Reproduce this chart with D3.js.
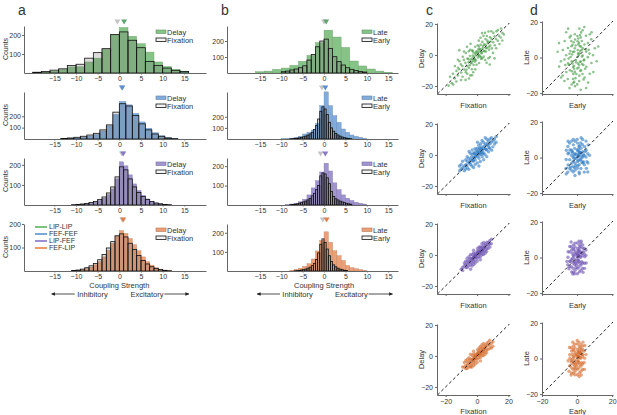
<!DOCTYPE html>
<html><head><meta charset="utf-8">
<script src="https://cdn.jsdelivr.net/npm/d3@7"></script>
<style>
body{margin:0;background:#fff}
svg{display:block}
text{font-family:"Liberation Sans",Arial,sans-serif;fill:#333}
</style>
</head><body>
<svg id="chart" width="617" height="415"></svg>
<script>
// ---------------- DATA ----------------
const pairTypes = ["LIP-LIP","FEF-FEF","LIP-FEF","FEF-LIP"];
const histTicks = [-15,-10,-5,0,5,10,15];
const countTicks = [100,200];
const scatTicks = [-20,0,20];

// panel a: Fixation (outline) vs Delay (colored); bin start / width / counts
const aStart = [-20,-13.5,-11,-11];
const aWidth = [2,1.5,1,1];
const aFixation = [
  [4,8,15,22,40,46,78,107,128,202,216,172,133,61,40,26,14,8],
  [4,9,15,24,35,50,80,124,236,310,290,206,133,80,44,24,9,3],
  [1,3,5,8,12,18,28,40,60,90,140,190,175,130,90,62,42,28,18,10,6,3,1],
  [2,4,8,14,22,32,48,70,98,125,150,158,145,118,92,66,45,30,18,11,6,3,1]
];
const aDelay = [
  [2,5,10,18,32,33,58,78,125,200,239,193,154,110,58,34,20,10],
  [2,4,8,15,25,40,70,115,215,330,300,225,150,95,55,28,12,4],
  [1,2,3,5,8,14,22,34,52,80,130,215,195,150,105,72,48,30,18,10,5,2,1],
  [1,2,5,10,16,26,40,60,88,118,148,172,160,138,112,86,60,40,25,14,7,3,2]
];
const aYMax = [247,413,234,200];
const aMeanFix = [-0.45,0.5,0.6,0.7];
const aMeanDelay = [1.1,0.7,0.9,0.9];

// panel b: Early (outline) vs Late (colored)
const bLateStart = [-16,-10,-9,-8];
const bLateWidth = [2,1,1,1];
const bLate = [
  [8,12,23,31,48,73,110,190,268,225,160,75,44,25,12,4],
  [2,4,8,14,25,45,60,80,140,300,424,300,210,150,90,60,36,24,15,6],
  [2,5,9,17,30,52,88,125,170,215,175,114,79,52,35,23,14,9,5],
  [3,9,15,24,38,63,105,160,205,150,106,80,55,29,17,12,7,3]
];
const bEarlyStart = [-10,-8,-8,-7];
const bEarlyWidth = [1,0.5,0.5,0.5];
const bEarly = [
  [8,12,19,25,33,45,81,116,164,200,212,154,102,71,50,33,23,15,10,6],
  [2,3,5,7,10,14,20,26,35,45,60,85,120,180,250,290,270,220,150,100,70,50,36,26,18,12,8,5,3],
  [2,3,4,6,9,12,16,20,26,34,47,60,79,100,150,165,160,140,110,70,44,32,26,20,16,12,9,6,4],
  [1,2,3,5,7,10,15,20,28,40,60,95,140,168,150,115,80,50,32,22,15,10,7,4,3]
];
const bYMax = [294,423,242,246];
const bMeanEarly = [0.0,-0.5,-0.8,-0.3];
const bMeanLate = [0.5,0.3,0.3,0.6];

// panel c: (Fixation, Delay) per pair; panel d: (Early, Late)
const scatC1 = [[0.3,1.2],[1.4,2.1],[-0.8,-0.4],[2.2,3.5],[-2.1,-1.3],[3.6,4.2],[-3.3,-2.4],[1.1,-0.3],[0.6,-1.7],[2.8,0.9],[-1.5,-2.6],[4.4,2.7],[-4.2,-3.1],[5.3,6.4],[-5.4,-4.6],[3.1,1.5],[-2.6,-3.8],[1.7,3.9],[-0.2,2.4],[-1.2,0.8],
[6.2,4.7],[-6.3,-7.2],[7.1,8.3],[-7.4,-5.1],[4.6,6.8],[-3.7,-5.3],[2.4,-1.4],[-2.3,1.6],[5.7,2.2],[-4.5,-0.7],[8.4,6.1],[-8.1,-9.4],[6.6,9.2],[-5.2,-8.3],[3.3,-2.2],[-3.1,2.8],[9.2,10.4],[-9.3,-7.2],[1.2,5.4],[-1.4,-4.3],
[10.3,8.2],[-10.1,-11.3],[7.6,3.4],[-6.1,-2.3],[4.2,-1.1],[-4.4,3.3],[11.2,12.1],[-11.4,-9.2],[8.3,11.4],[-7.2,-11.1],[2.3,6.6],[-2.2,-6.4],[5.2,-3.3],[-5.3,2.4],[12.1,10.3],[-12.3,-13.2],[9.4,4.2],[-8.4,-3.2],[0.4,6.2],[-0.3,-6.3],
[13.2,9.1],[-13.1,-10.3],[6.3,12.2],[-9.2,-14.1],[3.4,8.4],[-3.3,-9.2],[10.4,14.2],[-10.3,-6.1],[7.2,-2.1],[-7.1,1.2],[14.1,12.3],[-14.2,-15.1],[11.3,6.2],[-11.2,-4.1],[1.3,-5.2],[-1.2,5.3],[12.4,15.2],[-12.1,-8.3],[5.4,10.2],[-6.2,-12.1],
[15.1,11.2],[-15.3,-12.2],[8.2,-1.3],[-8.3,2.2],[4.1,12.3],[-4.3,-13.2],[13.3,16.1],[-13.2,-17.1],[9.1,15.3],[-10.2,-16.2],[16.2,14.1],[-16.1,-18.2],[14.3,7.1],[-14.1,-7.2],[2.2,11.1],[-2.4,-11.2],[11.1,-2.2],[-11.3,3.1],[6.1,-5.1],[-6.4,5.2],
[17.1,13.2],[-17.2,-14.1],[10.2,1.3],[-9.1,-1.2],[3.2,14.1],[-5.1,-15.2],[15.3,17.1],[-18.1,-19.8],[12.2,4.3],[-12.2,-3.1],[7.3,15.1],[-7.3,-16.1],[1.1,9.2],[-1.1,-9.3],[5.1,14.2],[-3.2,-13.1],[8.1,-6.2],[-4.1,7.2],[16.1,9.3],[-15.2,-19.1],
[0.7,0.2],[1.8,-0.8],[-0.6,1.7],[2.6,2.3],[-1.7,-2.8],[3.8,5.7],[-2.7,-0.4],[4.7,2.4],[-3.6,-4.8],[5.8,4.3],[-4.7,-6.6],[6.8,7.6],[-5.6,-2.7],[7.7,5.3],[-6.7,-9.6],[8.6,8.7],[0.8,3.6],[-0.7,-3.4],[2.7,-2.6],[-2.8,2.7]];
const scatD1 = [[0.2,0.3],[1.3,2.2],[-0.7,-1.4],[2.1,-2.3],[-2.3,3.1],[0.4,4.2],[1.2,-4.1],[-1.3,5.2],[3.2,1.1],[-3.1,-2.2],[0.1,-6.2],[2.3,6.1],[-2.2,-5.3],[4.1,-1.2],[-4.3,2.1],[1.1,8.2],[-1.2,-8.1],[3.3,5.1],[-3.2,6.3],[2.2,-7.1],
[0.3,9.1],[-2.1,-9.2],[5.2,3.3],[-5.1,-3.2],[1.3,-10.2],[-1.1,10.1],[4.2,7.3],[-4.1,-7.2],[6.1,0.2],[-6.2,1.3],[3.1,-9.3],[-3.3,9.2],[0.2,12.1],[2.1,11.3],[-2.3,-12.1],[5.3,-5.2],[-5.2,5.3],[7.1,2.2],[-7.2,-1.1],[1.2,-13.2],
[-1.3,13.1],[4.3,-11.2],[-4.2,11.3],[6.2,8.1],[-6.1,-8.2],[8.2,-3.1],[-8.1,4.2],[2.3,14.1],[-2.1,-14.2],[0.1,-15.1],[3.2,15.3],[-3.1,-15.2],[9.1,1.3],[-9.2,-2.1],[5.1,12.2],[-5.3,-12.1],[7.2,-9.1],[-7.1,9.3],[1.3,16.2],[-1.2,-16.1],
[10.1,5.2],[-10.2,-5.1],[6.3,-14.1],[-6.2,14.2],[4.1,17.1],[-4.3,-17.2],[11.2,-2.1],[-11.1,3.2],[8.1,10.2],[-8.2,-10.1],[0.6,2.3],[1.7,-2.4],[-1.6,3.3],[2.6,4.2],[-2.7,-3.3],[0.5,-3.4],[3.6,-4.2],[-3.7,0.3],[1.6,6.4],[-1.7,-6.3],
[2.7,9.3],[-2.6,7.2],[4.6,-6.3],[-4.7,-4.1],[3.7,-12.3],[-3.6,12.2],[6.6,4.3],[-6.7,-4.2],[0.7,7.3],[-0.4,-9.3],[12.1,6.2],[-10.3,8.1],[9.3,-8.2],[-9.1,-11.2],[5.2,-17.1],[-5.1,16.2],[2.1,-18.1],[7.3,13.1],[-7.2,-13.2],[8.3,14.2],
[0.8,1.4],[-0.6,-2.7],[1.8,3.6],[-1.8,-4.6],[2.8,0.6],[-2.8,1.7],[0.9,-5.6],[-0.8,6.7],[1.9,-7.6],[-1.9,8.6],[3.8,-1.6],[-3.8,3.6],[0.7,10.7],[-0.9,-11.6],[2.9,-3.7],[-2.9,-7.7],[4.8,4.6],[-4.8,-0.6],[1.7,12.6],[-1.6,-13.7]];
const scatC2 = [[0.2,0.4],[1.3,1.1],[2.1,2.3],[-0.8,-1.2],[3.2,2.1],[-2.2,-1.7],[1.1,3.3],[0.3,2.2],[2.4,0.2],[-1.3,1.1],[4.2,4.3],[-3.1,-3.2],[5.3,4.1],[-4.2,-3.3],[3.1,5.2],[-2.3,-4.1],[6.2,6.3],[-5.1,-5.2],[2.2,4.1],[-1.1,-3.2],
[4.3,1.2],[-3.2,0.3],[7.1,6.2],[-6.2,-4.1],[1.2,-2.1],[0.1,4.3],[5.2,7.1],[-4.1,-6.2],[8.3,7.2],[-7.1,-6.3],[6.1,3.2],[-5.3,-2.1],[3.3,-1.1],[-2.1,1.2],[9.1,8.3],[-8.2,-7.1],[7.2,9.1],[-6.1,-8.2],[4.1,8.2],[-3.3,-7.1],
[10.2,9.1],[-9.1,-8.2],[8.1,4.3],[-7.2,-3.1],[2.3,7.2],[-1.2,-6.1],[11.1,10.2],[-10.2,-9.1],[9.2,11.1],[-8.1,-10.2],[6.3,10.1],[-5.2,-9.3],[5.1,0.2],[-4.3,1.1],[10.1,5.2],[-9.2,-4.1],[1.1,6.3],[0.2,-5.1],[12.1,8.2],[-11.2,-7.1],
[3.2,9.3],[-2.2,-8.1],[8.2,10.3],[-6.3,-1.2],[7.3,2.1],[-7.2,-9.1],[4.2,-3.1],[-3.1,3.2],[11.2,7.1],[-10.1,-6.2],[2.1,-4.2],[-1.3,4.1],[6.2,-1.1],[-5.1,2.2],[9.3,3.1],[0.3,8.2],[1.2,-7.1],[12.2,11.8],[-11.1,-10.2],[5.2,11.1],
[0.7,1.6],[1.6,0.7],[-0.6,-0.4],[2.7,3.6],[-1.6,-1.7],[3.7,3.4],[4.6,5.7],[-2.7,-3.6],[5.7,3.6],[-3.6,-1.4],[6.7,7.6],[-4.6,-4.7],[1.7,4.6],[-0.7,2.7],[7.6,4.7],[-6.6,-6.7],[0.6,-0.8],[2.6,1.6],[3.6,0.7],[-1.7,0.6]];
const scatD2 = [[0.2,0.3],[1.1,1.2],[-1.2,2.1],[0.3,-2.2],[2.1,-1.1],[-2.2,0.2],[1.3,3.1],[-1.1,-3.2],[2.2,2.3],[-2.1,-2.1],[3.1,0.1],[-3.2,1.3],[0.1,4.2],[1.2,-4.1],[-1.3,5.1],[2.3,5.2],[-2.3,-5.1],[3.2,3.3],[-3.1,-3.2],[4.1,1.1],
[-4.2,-1.2],[0.2,-6.1],[1.1,6.2],[-1.2,-7.1],[2.2,-6.2],[-2.1,7.1],[3.3,-3.1],[-3.2,4.2],[4.2,-4.1],[-4.1,4.3],[5.1,0.3],[-5.2,2.1],[0.3,8.1],[1.2,-8.2],[-1.1,9.1],[2.1,8.2],[-2.2,-8.1],[3.1,7.2],[-3.3,-7.1],[4.3,6.1],
[-4.2,-6.2],[5.2,4.1],[-5.1,-4.2],[6.1,2.2],[-6.2,-1.1],[0.1,10.2],[1.3,-9.1],[-1.2,-10.1],[3.2,10.1],[-3.1,9.2],[4.1,-8.2],[-4.3,8.1],[5.3,-6.1],[-5.2,6.2],[6.2,-3.1],[-6.1,4.1],[7.1,1.2],[-6.3,-6.1],[2.3,11.1],[-2.1,10.2],
[0.6,1.7],[1.7,-1.3],[-0.7,-0.6],[1.6,2.7],[-1.6,1.4],[0.5,3.6],[2.6,0.6],[-2.7,3.4],[0.4,-4.6],[3.6,-2.4],[-3.7,-5.3],[4.6,3.4],[-4.7,2.6],[5.6,-2.3],[6.3,7.1],[-5.3,-8.2],[5.1,9.2],[-5.1,9.1],[6.1,-8.1],[-6.2,-9.2],
[0.8,0.6],[-0.6,1.8],[0.7,-1.7],[1.8,2.9],[-1.7,-0.4],[0.9,4.7],[-0.8,-4.6],[2.8,-2.7],[-2.6,2.8],[1.4,6.6],[-1.4,-5.7],[3.7,1.6]];
const scatC3 = [[0.2,0.4],[1.1,1.3],[-1.2,-0.8],[2.1,2.3],[-2.2,-1.7],[1.3,2.1],[0.3,1.2],[-1.1,0.2],[3.2,3.1],[-3.1,-3.2],[2.2,1.1],[-2.1,-1.2],[4.1,4.3],[-4.2,-4.1],[3.3,2.2],[-3.2,-2.1],[5.1,5.2],[-5.2,-5.1],[1.2,3.1],[-1.3,-3.2],
[0.1,2.2],[0.2,-2.1],[4.2,2.1],[-4.1,-2.2],[6.1,6.2],[-6.2,-6.1],[2.3,4.1],[-2.2,-4.2],[5.2,3.1],[-5.1,-3.2],[7.1,6.3],[-7.2,-6.1],[3.1,5.2],[-3.3,-5.1],[6.2,4.1],[-6.1,-4.2],[8.1,7.2],[-8.2,-7.1],[4.3,6.1],[-4.1,-6.2],
[1.1,-1.2],[-1.2,1.1],[7.2,8.1],[-7.1,-8.2],[2.1,-1.1],[-2.3,1.2],[5.3,7.1],[-5.2,-7.2],[8.2,5.1],[-8.1,-5.2],[3.2,0.1],[-3.1,0.2],[6.3,8.2],[-6.2,-8.1],[9.1,7.2],[-9.2,-8.1],[4.1,0.3],[-4.2,0.1],[2.2,5.1],[-2.1,-6.2],
[7.1,4.2],[-7.2,-4.1],[0.3,4.2],[0.1,-4.1],[5.2,1.1],[-5.1,-1.2],[3.1,7.2],[-3.2,-7.1],[8.1,9.2],[-9.1,-10.1],[1.3,5.1],[-1.2,-5.2],[6.1,2.2],[-6.3,-2.1],[4.2,8.1],[-4.1,-9.2],[9.2,10.1],[-10.1,-9.2],[2.1,-3.1],[-2.2,3.1],
[0.6,0.7],[1.7,1.6],[-0.7,-0.6],[2.6,2.7],[-1.6,-1.7],[3.6,3.7],[-2.7,-2.6],[0.7,1.7],[-0.6,-1.6],[4.7,4.6],[1.6,0.6],[-1.7,-0.7]];
const scatD3 = [[0.2,0.3],[1.1,1.2],[-1.2,-1.1],[0.3,2.1],[1.2,-2.2],[-1.1,3.2],[2.1,0.1],[-2.2,1.3],[0.1,-3.1],[1.3,4.2],[-1.3,-4.1],[2.2,3.1],[-2.1,-3.2],[3.1,1.1],[-3.2,-1.2],[0.2,5.1],[1.1,-5.2],[-1.2,6.1],[2.3,-4.2],[-2.2,5.1],
[3.2,-3.1],[-3.1,4.2],[0.3,-6.1],[4.1,2.2],[-4.2,-2.1],[1.2,7.1],[-1.1,-7.2],[2.1,6.2],[-2.3,-6.1],[3.3,5.2],[-3.2,-5.1],[4.2,-3.2],[-4.1,3.1],[0.1,8.2],[1.3,-8.1],[-1.2,8.1],[2.2,-7.2],[-2.1,7.1],[3.1,-6.2],[-3.3,6.1],
[4.1,5.2],[-4.3,-5.1],[5.1,1.2],[-5.2,0.1],[0.2,-9.1],[1.1,9.2],[-1.3,-9.1],[2.2,8.1],[-2.1,-8.2],[3.2,7.1],[-3.1,-8.1],[4.3,-6.1],[-4.2,6.2],[5.2,-3.1],[-5.1,3.2],[-5.3,-4.1],[5.1,4.2],[0.6,1.4],[1.6,0.4],[-0.7,2.3],
[0.4,-1.3],[1.7,-3.4],[-1.6,-2.3],[2.6,2.4],[-2.7,-0.6],[2.7,-2.3],[-2.6,2.4],[3.6,3.3],[-3.7,-2.4],[0.7,3.4],[-0.4,-4.3],[1.4,5.6],[-1.7,4.4],[4.4,0.4],[-4.6,-6.3],[3.4,-8.3],[-3.4,8.7],[2.4,9.1],[-2.4,-9.3],[-5.8,-2.2],
[0.8,0.7],[-0.6,1.6],[0.7,-1.7],[-0.8,-2.6],[1.8,2.7],[-1.8,0.6],[0.6,3.8],[-0.6,-5.7]];
const scatC4 = [[0.2,0.3],[1.1,1.2],[-1.2,-1.1],[2.1,2.3],[-2.2,-2.1],[1.3,2.2],[0.1,1.1],[-1.1,0.3],[3.2,3.1],[-3.1,-3.2],[2.2,1.1],[-2.1,-1.2],[4.1,4.2],[-4.2,-4.1],[3.3,2.1],[-3.2,-2.2],[5.1,5.3],[-5.2,-5.1],[1.2,3.3],[-1.3,-3.1],
[0.3,2.1],[0.1,-2.2],[4.2,2.2],[-4.1,-2.1],[6.1,6.2],[-6.2,-6.1],[2.3,4.2],[-2.2,-4.1],[5.2,3.1],[-5.1,-3.2],[7.1,7.2],[-7.2,-6.1],[3.1,5.2],[-3.3,-5.1],[6.2,4.1],[-6.1,-4.3],[8.1,7.1],[-8.2,-7.2],[4.3,6.1],[-4.1,-6.2],
[1.1,-1.2],[-1.2,1.1],[7.2,9.1],[-7.1,-8.2],[2.1,-1.1],[-2.3,1.2],[5.3,7.1],[-5.2,-7.2],[8.2,5.1],[-8.1,-4.2],[3.2,0.1],[-3.1,0.2],[6.3,8.2],[-6.2,-2.1],[9.1,8.2],[-9.2,-7.1],[4.1,0.2],[-4.2,1.1],[2.2,6.1],[-2.1,-6.2],
[7.1,4.2],[-7.2,-3.1],[0.3,4.1],[0.1,-4.2],[5.2,1.1],[-5.1,-1.2],[3.1,7.2],[-3.2,-7.1],[8.1,10.1],[10.1,6.2],[1.3,5.1],[-1.2,-5.2],[6.1,2.2],[-6.3,-8.1],[4.2,8.1],[-4.1,-7.2],[9.2,5.1],[-2.2,3.1],[2.1,-3.2],[10.2,9.1],
[0.6,0.7],[1.7,1.6],[-0.7,-0.6],[2.6,2.7],[-1.6,-1.7],[3.6,3.7],[-2.7,-2.6],[0.7,1.7],[-0.6,-1.6],[4.7,4.6],[1.6,0.6],[-1.7,-0.7]];
const scatD4 = [[0.2,0.3],[1.1,1.2],[-1.2,-1.1],[0.3,2.1],[1.2,-2.2],[-1.1,3.2],[2.1,0.1],[-2.2,1.3],[0.1,-3.1],[1.3,4.2],[-1.3,-4.1],[2.2,3.1],[-2.1,-3.2],[3.1,1.1],[-3.2,-1.2],[0.2,5.1],[1.1,-5.2],[-1.2,6.1],[2.3,-4.2],[-2.2,5.1],
[3.2,-3.1],[-3.1,4.2],[0.3,-6.1],[3.3,2.2],[-3.3,-2.1],[1.2,7.1],[-1.1,-7.2],[2.1,6.2],[-2.3,-6.1],[3.1,5.2],[-3.2,-5.1],[4.1,-2.2],[-4.2,2.1],[0.1,8.2],[1.3,-8.1],[-1.2,8.1],[2.2,-7.2],[-2.1,7.1],[3.1,-6.2],[-3.3,6.1],
[4.1,4.2],[-4.2,-4.1],[4.3,0.2],[-4.1,0.1],[0.2,-9.1],[1.1,9.2],[-1.3,-9.1],[2.2,8.1],[-2.1,-8.2],[3.2,7.1],[-3.1,-8.1],[4.2,-6.1],[-4.3,6.2],[0.1,10.1],[1.2,-10.1],[0.6,1.4],[1.6,0.4],[-0.7,2.3],[0.4,-1.3],[1.7,-3.4],
[-1.6,-2.3],[2.6,2.4],[-2.7,-0.6],[2.7,-2.3],[-2.6,2.4],[0.7,3.4],[-0.4,-4.3],[1.4,5.6],[-1.7,4.4],[2.4,-9.3],[-2.4,9.1],[3.4,9.2],[-3.4,-9.3],[4.4,7.3],[-4.6,-7.2],[5.1,2.2],[-5.1,-1.3],[1.6,3.3],[-1.6,-5.4],[2.6,4.4],
[0.8,0.7],[-0.6,1.6],[0.7,-1.7],[-0.8,-2.6],[1.8,2.7],[-1.8,0.6],[0.6,3.8],[-0.6,-5.7]];
const scatC = [scatC1,scatC2,scatC3,scatC4];
const scatD = [scatD1,scatD2,scatD3,scatD4];

// ---------------- STYLE ----------------
const fillCol = ["#86c386","#82acdc","#a194d2","#eda077"];
const meanCol = ["#5fa56f","#5b8fcf","#8878c6","#e2804c"];
const dotCol  = ["#3f9a3f","#2f7cc4","#6c52b2","#d36a2c"];
const legCol  = ["#7cc47c","#7aa8dc","#9c8fd4","#f09a6a"];
const dotR    = [1.3,1.7,1.7,1.7];
const axisCol = "#666";
const txtCol = "#333";

const svg = d3.select("#chart");
const defs = svg.append("defs");
defs.append("marker").attr("id","arr").attr("viewBox","0 0 6 6").attr("refX",5).attr("refY",3)
  .attr("markerWidth",5).attr("markerHeight",5).attr("orient","auto-start-reverse")
  .append("path").attr("d","M0,0.5L6,3L0,5.5Z").attr("fill","#222");

const baselines = [73,139,205,271];
const H = 47;
const xA = d3.scaleLinear().domain([-22,20]).range([24,206]);
const xB = d3.scaleLinear().domain([-22.7,17.3]).range([227,398]);

function styleAxis(g){
  g.select(".domain").attr("stroke",axisCol).attr("stroke-width",1);
  g.selectAll(".tick line").attr("stroke",axisCol);
  g.selectAll(".tick text").attr("fill",txtCol).style("font-size","7px")
   .style("font-family","'Liberation Sans',Arial,sans-serif");
}
function label(sel, size){ return sel.attr("fill",txtCol).style("font-size",size); }

function bars(g, x, y, base, start, width, counts, fill, stroke, sw, op){
  g.append("g").selectAll("rect").data(counts).join("rect")
    .attr("x",(d,i)=>x(start+i*width))
    .attr("width",(d,i)=>x(start+(i+1)*width)-x(start+i*width))
    .attr("y",d=>y(d)).attr("height",d=>base-y(d))
    .attr("fill",fill).attr("fill-opacity",op)
    .attr("stroke",stroke).attr("stroke-width",sw);
}

function tri(g, cx, cy, col){
  g.append("path").attr("d",`M${cx-3},${cy-2.5}L${cx+3},${cy-2.5}L${cx},${cy+2.5}Z`).attr("fill",col);
}

function histPanel(x, r, yMax, cStart, cWidth, cCounts, oStart, oWidth, oCounts, mO, mC, labC, labO, legX, counts){
  const base = baselines[r];
  const g = svg.append("g");
  const y = d3.scaleLinear().domain([0,yMax]).range([base, base-H]);
  bars(g, x, y, base, cStart, cWidth, cCounts, fillCol[r], d3.color(fillCol[r]).darker(0.6), 0.4, 1);
  bars(g, x, y, base, oStart, oWidth, oCounts, "#6e6e6e", "#111", 0.8, 0.25);
  const ay = g.append("g").attr("transform",`translate(${x.range()[0]},0)`)
    .call(d3.axisLeft(y).tickValues(countTicks).tickSize(2).tickSizeOuter(0).tickPadding(1));
  styleAxis(ay);
  const ax = g.append("g").attr("transform",`translate(0,${base})`)
    .call(d3.axisBottom(x).tickValues(histTicks).tickSize(1.5).tickSizeOuter(0).tickPadding(1.5));
  styleAxis(ax);
  tri(g, x(mO), base-51, "#c4c4c4");
  tri(g, x(mC), base-51, meanCol[r]);
  g.append("rect").attr("x",legX).attr("y",base-43).attr("width",10).attr("height",3.5)
    .attr("fill",fillCol[r]).attr("stroke",d3.color(fillCol[r]).darker(0.8)).attr("stroke-width",0.6);
  g.append("rect").attr("x",legX).attr("y",base-35).attr("width",10).attr("height",3.5)
    .attr("fill","#f4f4f4").attr("stroke","#111").attr("stroke-width",0.8);
  label(g.append("text").attr("x",legX+11).attr("y",base-41).attr("dy","0.35em"),"7.5px").text(labC);
  label(g.append("text").attr("x",legX+11).attr("y",base-33).attr("dy","0.35em"),"7.5px").text(labO);
  if(counts){
    label(g.append("text").attr("transform",`translate(6,${base-24}) rotate(-90)`).attr("text-anchor","middle")
      .attr("dy","0.35em"),"7px").text("Counts");
  }
}

for(let r=0;r<4;r++){
  histPanel(xA, r, aYMax[r], aStart[r], aWidth[r], aDelay[r], aStart[r], aWidth[r], aFixation[r],
    aMeanFix[r], aMeanDelay[r], "Delay", "Fixation", 156, true);
  histPanel(xB, r, bYMax[r], bLateStart[r], bLateWidth[r], bLate[r], bEarlyStart[r], bEarlyWidth[r], bEarly[r],
    bMeanEarly[r], bMeanLate[r], "Late", "Early", 362, false);
}

pairTypes.forEach((p,i)=>{
  const yy = 227 + i*7;
  svg.append("line").attr("x1",35).attr("x2",47).attr("y1",yy).attr("y2",yy)
    .attr("stroke",legCol[i]).attr("stroke-width",2);
  label(svg.append("text").attr("x",49).attr("y",yy).attr("dy","0.35em"),"7px").text(p);
});

function annot(x){
  label(svg.append("text").attr("x",x(0)).attr("y",285.5).attr("dy","0.35em").attr("text-anchor","middle"),"7.5px").text("Coupling Strength");
  label(svg.append("text").attr("x",x(-6.2)).attr("y",294).attr("dy","0.35em").attr("text-anchor","middle"),"7.5px").text("Inhibitory");
  label(svg.append("text").attr("x",x(6.4)).attr("y",294).attr("dy","0.35em").attr("text-anchor","middle"),"7.5px").text("Excitatory");
  svg.append("line").attr("x1",x(-10.3)).attr("x2",x(-15.6)).attr("y1",294).attr("y2",294)
    .attr("stroke","#222").attr("stroke-width",0.8).attr("marker-end","url(#arr)");
  svg.append("line").attr("x1",x(10.4)).attr("x2",x(16)).attr("y1",294).attr("y2",294)
    .attr("stroke","#222").attr("stroke-width",0.8).attr("marker-end","url(#arr)");
}
annot(xA); annot(xB);

const rowOff = [0,100,200,301];
function scatter(r, pts, xDom, xRange, yDom, yTop, yBot, xl, yl, ylx){
  const off = rowOff[r];
  const x = d3.scaleLinear().domain(xDom).range(xRange);
  const y = d3.scaleLinear().domain(yDom).range([yBot+off, yTop+off]);
  const g = svg.append("g");
  g.append("g").selectAll("circle").data(pts).join("circle")
    .attr("cx",d=>x(d[0])).attr("cy",d=>y(d[1])).attr("r",dotR[r])
    .attr("fill",dotCol[r]).attr("fill-opacity",0.6);
  const lo = Math.max(xDom[0],yDom[0]), hi = Math.min(xDom[1],yDom[1]);
  g.append("line").attr("x1",x(lo)).attr("y1",y(lo)).attr("x2",x(hi)).attr("y2",y(hi))
    .attr("stroke","#222").attr("stroke-width",1).attr("stroke-dasharray","3,2.5");
  const ay = g.append("g").attr("transform",`translate(${xRange[0]},0)`)
    .call(d3.axisLeft(y).tickValues(scatTicks).tickSize(2).tickSizeOuter(0).tickPadding(2));
  styleAxis(ay);
  const ax = g.append("g").attr("transform",`translate(0,${yBot+off})`)
    .call(d3.axisBottom(x).tickValues(scatTicks).tickSize(2).tickSizeOuter(0).tickPadding(2)
      .tickFormat(r===3 ? d3.format("d") : ()=>""));
  styleAxis(ax);
  label(g.append("text").attr("x",(xRange[0]+xRange[1])/2).attr("y", r===3 ? 411 : 105+off)
    .attr("dy","0.35em").attr("text-anchor","middle"),"7.5px").text(xl);
  label(g.append("text").attr("transform",`translate(${ylx},${(yTop+yBot)/2+off}) rotate(-90)`)
    .attr("dy","0.35em").attr("text-anchor","middle"),"7.5px").text(yl);
}
for(let r=0;r<4;r++){
  scatter(r, scatC[r], [-25.5,21], [437,510], [-25.2,20.6], 23, 94, "Fixation", "Delay", 421);
  scatter(r, scatD[r], [-20,20.5], [542,613], [-20.5,20.5], 21, 94, "Early", "Late", 526);
}

[["a",18],["b",221],["c",426],["d",530]].forEach(([t,xx])=>{
  label(svg.append("text").attr("x",xx).attr("y",15),"14px").text(t);
});
</script>
</body></html>
